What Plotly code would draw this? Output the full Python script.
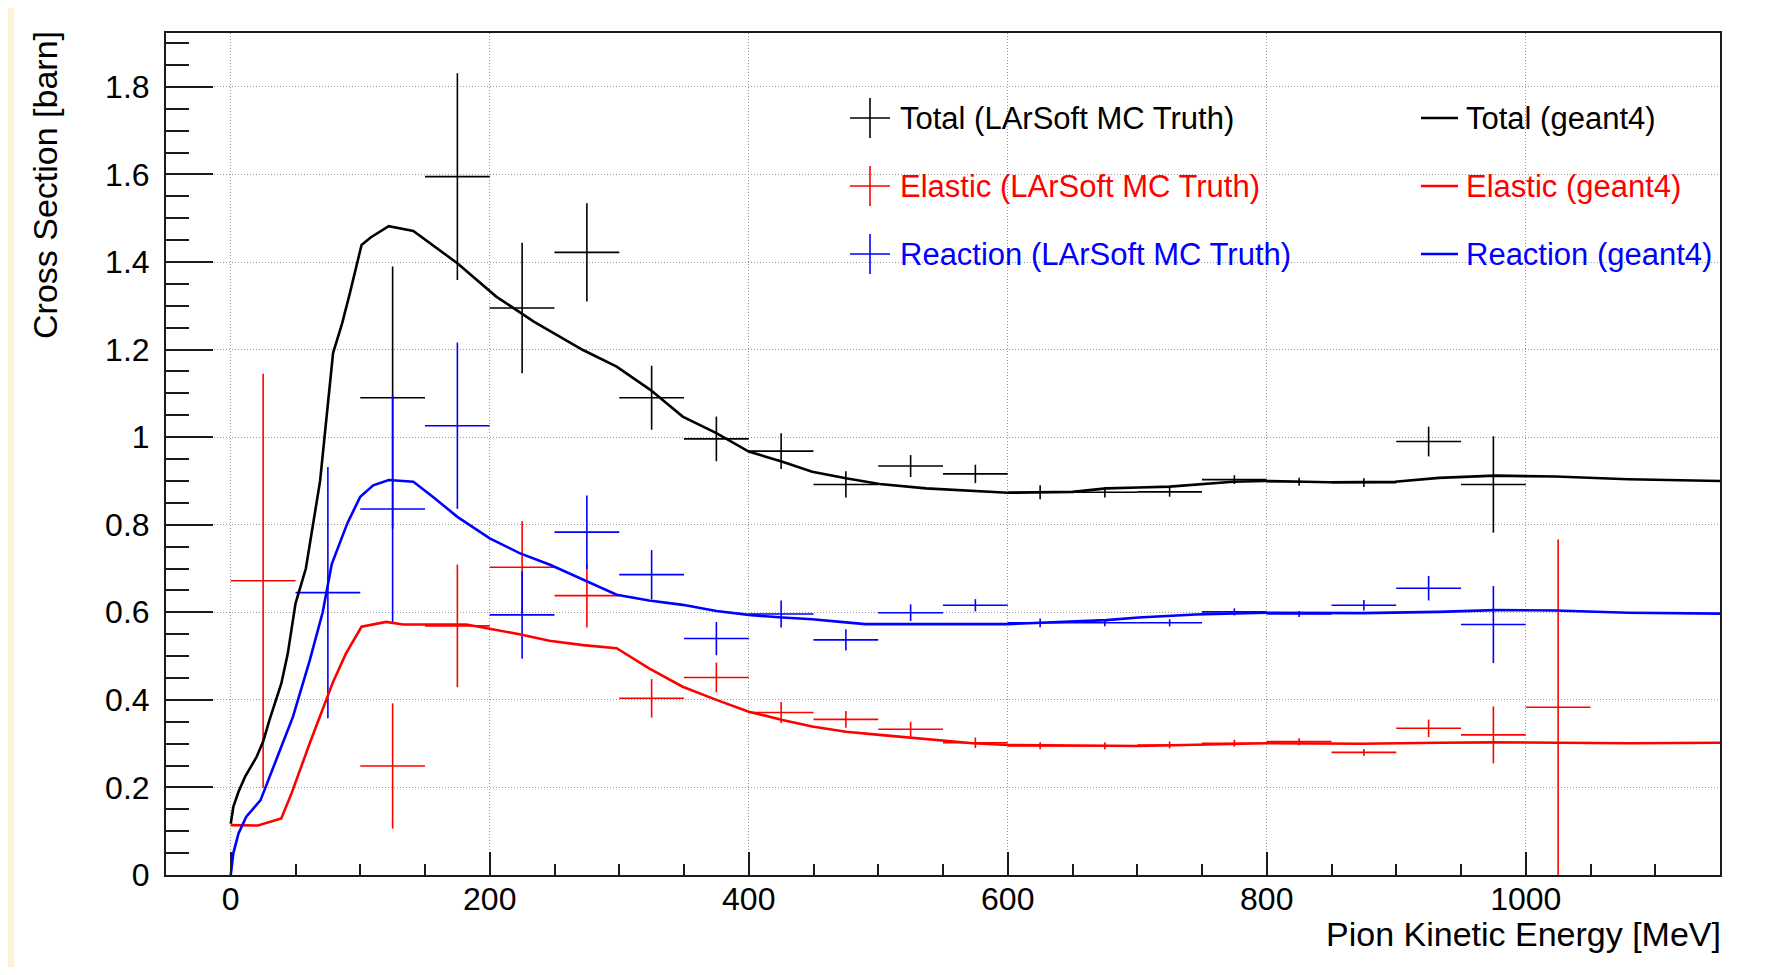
import plotly.graph_objects as go

# ---------------- data ----------------
# LArSoft MC truth (50 MeV bins, values at bin centres, symmetric y errors)
total_x = [125, 175, 225, 275, 325, 375, 425, 475, 525, 575, 625, 675, 725, 775, 825, 875, 925, 975]
total_y = [1.09, 1.595, 1.295, 1.422, 1.09, 0.996, 0.968, 0.892, 0.934, 0.916, 0.874, 0.874, 0.875, 0.903, 0.898, 0.896, 0.990, 0.892]
total_err = [0.30, 0.236, 0.149, 0.112, 0.073, 0.051, 0.041, 0.030, 0.025, 0.021, 0.016, 0.012, 0.011, 0.010, 0.009, 0.010, 0.034, 0.110]

elastic_x = [25, 125, 175, 225, 275, 325, 375, 425, 475, 525, 575, 625, 675, 725, 775, 825, 875, 925, 975, 1025]
elastic_y = [0.672, 0.249, 0.569, 0.703, 0.638, 0.4035, 0.451, 0.371, 0.3555, 0.333, 0.302, 0.295, 0.295, 0.297, 0.301, 0.3045, 0.280, 0.335, 0.320, 0.383]
elastic_err = [0.473, 0.143, 0.140, 0.105, 0.073, 0.044, 0.034, 0.024, 0.019, 0.017, 0.012, 0.008, 0.008, 0.008, 0.008, 0.008, 0.008, 0.020, 0.065, 0.383]

reaction_x = [75, 125, 175, 225, 275, 325, 375, 425, 475, 525, 575, 625, 675, 725, 775, 825, 875, 925, 975]
reaction_y = [0.645, 0.836, 1.026, 0.594, 0.783, 0.686, 0.540, 0.596, 0.537, 0.599, 0.616, 0.576, 0.576, 0.576, 0.601, 0.596, 0.616, 0.655, 0.572]
reaction_err = [0.287, 0.260, 0.190, 0.100, 0.084, 0.056, 0.038, 0.031, 0.024, 0.019, 0.014, 0.010, 0.008, 0.008, 0.008, 0.007, 0.012, 0.028, 0.088]

bin_half_width = 25

# geant4 curves
g4_total_x = [0, 2, 6, 11, 20, 25, 30, 39, 44, 50, 58, 69, 79, 86, 92, 101, 108, 122, 141, 156, 175, 205, 234, 272,
              298, 324, 349, 375, 400, 426, 449, 475, 501, 537, 573, 600, 650, 676, 701, 725, 774, 799, 848, 899,
              933, 976, 1023, 1079, 1150]
g4_total_y = [0.117, 0.156, 0.19, 0.224, 0.27, 0.305, 0.355, 0.437, 0.505, 0.62, 0.70, 0.90, 1.192, 1.26, 1.329,
              1.439, 1.456, 1.482, 1.471, 1.439, 1.397, 1.321, 1.264, 1.199, 1.161, 1.108, 1.047, 1.009, 0.967,
              0.944, 0.921, 0.906, 0.893, 0.883, 0.878, 0.873, 0.875, 0.883, 0.885, 0.887, 0.898, 0.900, 0.897,
              0.898, 0.907, 0.912, 0.910, 0.904, 0.900]

g4_reaction_x = [0, 2, 6, 12, 23, 35, 48, 61, 71, 78, 90, 100, 110, 122, 141, 156, 175, 200, 223, 247, 272, 298,
                 323, 349, 375, 400, 426, 449, 475, 490, 600, 625, 676, 701, 745, 799, 873, 933, 976, 1023, 1079, 1150]
g4_reaction_y = [0.0, 0.05, 0.095, 0.133, 0.171, 0.263, 0.361, 0.49, 0.60, 0.71, 0.803, 0.864, 0.89, 0.902, 0.898,
                 0.864, 0.818, 0.769, 0.735, 0.708, 0.674, 0.640, 0.627, 0.617, 0.603, 0.594, 0.588, 0.584, 0.577,
                 0.573, 0.573, 0.576, 0.582, 0.588, 0.595, 0.599, 0.598, 0.601, 0.605, 0.604, 0.599, 0.597]

g4_elastic_x = [0, 21, 39, 47, 61, 79, 89, 101, 120, 133, 182, 200, 223, 246, 272, 298, 323, 349, 375, 400, 426,
                449, 475, 501, 537, 573, 600, 650, 701, 799, 873, 933, 976, 1079, 1150]
g4_elastic_y = [0.114, 0.113, 0.129, 0.187, 0.301, 0.441, 0.506, 0.567, 0.578, 0.572, 0.572, 0.563, 0.550, 0.535,
                0.525, 0.518, 0.472, 0.430, 0.400, 0.373, 0.354, 0.339, 0.327, 0.320, 0.310, 0.301, 0.297, 0.295,
                0.2946, 0.301, 0.2996, 0.302, 0.303, 0.301, 0.302]

legend_mc = ["Total (LArSoft MC Truth)", "Elastic (LArSoft MC Truth)", "Reaction (LArSoft MC Truth)"]
legend_g4 = ["Total (geant4)", "Elastic (geant4)", "Reaction (geant4)"]

x_title = "Pion Kinetic Energy [MeV]"
y_title = "Cross Section [barn]"

# ---------------- layout geometry ----------------
OFF = 8                      # page offset of the figure (body margin)
W, H = 1773 - 2 * OFF, 975 - 2 * OFF
ML, MR, MT, MB = 158, 45, 25, 92
PW = W - ML - MR
PH = H - MT - MB
FONT = "Liberation Sans, Arial, Helvetica, sans-serif"
AX = "#1a1a1a"
COLORS = ["#000000", "#ff0000", "#0000ff"]


def px(xp):
    """page pixel x -> paper coordinate"""
    return (xp - OFF - ML) / PW


def py(yp):
    """page pixel y -> paper coordinate"""
    return (H - MB - (yp - OFF)) / PH


fig = go.Figure()

mc_sets = [(total_x, total_y, total_err), (elastic_x, elastic_y, elastic_err), (reaction_x, reaction_y, reaction_err)]
for (xs, ys, es), c, name in zip(mc_sets, COLORS, legend_mc):
    fig.add_trace(go.Scatter(
        x=xs, y=ys, mode="markers", name=name, showlegend=False,
        marker=dict(size=0, color="rgba(0,0,0,0)"),
        error_x=dict(type="constant", value=bin_half_width, width=0, thickness=1.6, color=c),
        error_y=dict(type="data", array=es, width=0, thickness=1.6, color=c),
    ))

g4_sets = [(g4_total_x, g4_total_y), (g4_elastic_x, g4_elastic_y), (g4_reaction_x, g4_reaction_y)]
for (xs, ys), c, name in zip(g4_sets, COLORS, legend_g4):
    fig.add_trace(go.Scatter(x=xs, y=ys, mode="lines", name=name, showlegend=False,
                             line=dict(color=c, width=2.6)))

shapes = []
annotations = []

# cream strip on the canvas's left edge
shapes.append(dict(type="rect", xref="paper", yref="paper", x0=px(OFF), x1=px(OFF + 6), y0=py(975), y1=py(OFF),
                   fillcolor="#fdf2d2", line=dict(width=0), layer="below"))

# manual legend
row_y = [118, 186, 254]
cross_x = 870
text1_x = 898
line2_x0, line2_x1 = 1421, 1458
text2_x = 1464
col1_end = [1232, 1253, 1284]
col2_end = [1656, 1677, 1706]
for i, c in enumerate(COLORS):
    yc = row_y[i]
    shapes.append(dict(type="rect", xref="paper", yref="paper", x0=px(848), x1=px(col1_end[i]),
                       y0=py(yc + 29), y1=py(yc - 29), fillcolor="white", line=dict(width=0), layer="between"))
    shapes.append(dict(type="rect", xref="paper", yref="paper", x0=px(1412), x1=px(col2_end[i]),
                       y0=py(yc + 29), y1=py(yc - 29), fillcolor="white", line=dict(width=0), layer="between"))
    shapes.append(dict(type="line", xref="paper", yref="paper", x0=px(cross_x - 20), x1=px(cross_x + 20),
                       y0=py(yc), y1=py(yc), line=dict(color=c, width=1.6)))
    shapes.append(dict(type="line", xref="paper", yref="paper", x0=px(cross_x), x1=px(cross_x),
                       y0=py(yc - 20), y1=py(yc + 20), line=dict(color=c, width=1.6)))
    shapes.append(dict(type="line", xref="paper", yref="paper", x0=px(line2_x0), x1=px(line2_x1),
                       y0=py(yc), y1=py(yc), line=dict(color=c, width=2.6)))
    annotations.append(dict(xref="paper", yref="paper", x=px(text1_x), y=py(yc), xanchor="left",
                            yanchor="middle", text=legend_mc[i], showarrow=False,
                            font=dict(family=FONT, size=31, color=c)))
    annotations.append(dict(xref="paper", yref="paper", x=px(text2_x), y=py(yc), xanchor="left",
                            yanchor="middle", text=legend_g4[i], showarrow=False,
                            font=dict(family=FONT, size=31, color=c)))

# axis titles
annotations.append(dict(xref="paper", yref="paper", x=1, y=0, xanchor="right", yanchor="middle",
                        yshift=-59, xshift=3, text=x_title, showarrow=False,
                        font=dict(family=FONT, size=34, color="black")))
annotations.append(dict(xref="paper", yref="paper", x=0, y=1, xanchor="center", yanchor="top",
                        xshift=-121, yshift=4, textangle=-90, text=y_title, showarrow=False,
                        font=dict(family=FONT, size=34, color="black")))

fig.update_layout(
    width=W, height=H,
    margin=dict(l=ML, r=MR, t=MT, b=MB, pad=0),
    paper_bgcolor="white", plot_bgcolor="white",
    showlegend=False,
    font=dict(family=FONT, size=32, color="black"),
    shapes=shapes, annotations=annotations,
    xaxis=dict(
        range=[-50, 1150], tick0=0, dtick=200, ticks="inside", ticklen=23, tickwidth=2, tickcolor=AX,
        showline=True, linecolor=AX, linewidth=2, mirror=True, zeroline=False,
        showgrid=True, gridcolor="#9a9a9a", gridwidth=1, griddash="1px,2px",
        tickfont=dict(family=FONT, size=32, color="black"), ticklabelstandoff=-5,
        minor=dict(tick0=0, dtick=50, ticks="inside", ticklen=11, tickwidth=2, tickcolor=AX, showgrid=False),
    ),
    yaxis=dict(
        range=[0, 1.923], tick0=0, dtick=0.2, ticks="inside", ticklen=47, tickwidth=2, tickcolor=AX,
        showline=True, linecolor=AX, linewidth=2, mirror=True, zeroline=False,
        showgrid=True, gridcolor="#9a9a9a", gridwidth=1, griddash="1px,2px",
        tickfont=dict(family=FONT, size=32, color="black"), ticklabelstandoff=8,
        minor=dict(tick0=0, dtick=0.05, ticks="inside", ticklen=23, tickwidth=2, tickcolor=AX, showgrid=False),
    ),
)

fig.write_html("out.html")
